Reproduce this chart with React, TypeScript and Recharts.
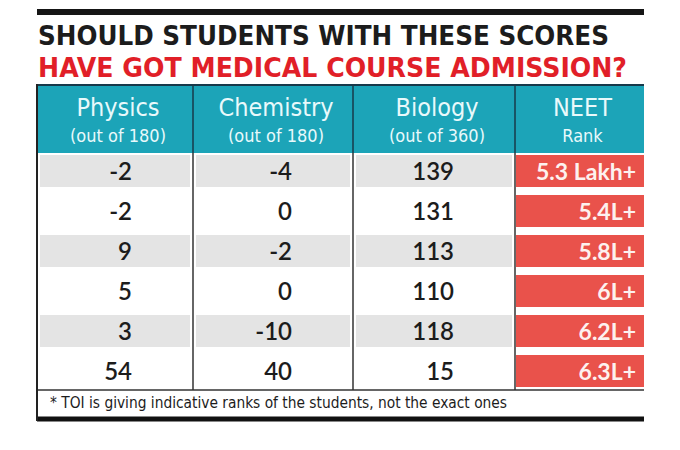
import React from 'react';
import { BarChart, Bar, XAxis, YAxis } from 'recharts';

// ---- data ----
const titleLines = ['SHOULD STUDENTS WITH THESE SCORES', 'HAVE GOT MEDICAL COURSE ADMISSION?'];
const subjects = ['Physics', 'Chemistry', 'Biology', 'NEET'];
const subLabels = ['(out of 180)', '(out of 180)', '(out of 360)', 'Rank'];
const physics = [-2, -2, 9, 5, 3, 54];
const chemistry = [-4, 0, -2, 0, -10, 40];
const biology = [139, 131, 113, 110, 118, 15];
const neetRank = ['5.3 Lakh+', '5.4L+', '5.8L+', '6L+', '6.2L+', '6.3L+'];
const footnote = '* TOI is giving indicative ranks of the students, not the exact ones';

const data = physics.map((p, i) => ({
  row: `r${i + 1}`,
  physics: p,
  chemistry: chemistry[i],
  biology: biology[i],
  neet: neetRank[i],
}));

// ---- layout ----
const W = 680;
const H = 450;
const COLS = [37, 193, 353, 515, 644];
const HEAD_TOP = 85;
const HEAD_BOTTOM = 153;
const BODY_TOP = 151;
const BODY_BOTTOM = 391;
const TEAL = '#1ca4b8';
const RED = '#e9524b';
const TITLE_RED = '#e11f28';
const INK = '#1c1c1c';
const BODY_FONT = 'Lato, "Open Sans", sans-serif';
const HEAD_FONT = '"Liberation Sans Narrow", "DejaVu Sans Condensed", Lato, sans-serif';

function RowShape(props: any) {
  const { y, height, index, payload } = props;
  const base = y + height / 2 + 9;
  const values = [payload.physics, payload.chemistry, payload.biology];
  return (
    <g>
      {index % 2 === 0 &&
        values.map((_, c) => (
          <rect key={`bg${c}`} x={COLS[c] + 3} y={y} width={COLS[c + 1] - COLS[c] - 6} height={height} fill="#e4e4e4" />
        ))}
      {values.map((v, c) => (
        <text
          key={`t${c}`}
          x={COLS[c + 1] - 61}
          y={base}
          textAnchor="end"
          fontFamily={BODY_FONT}
          fontWeight={600}
          fontSize={24}
          fill={INK}
        >
          {String(v)}
        </text>
      ))}
      <rect x={COLS[3] + 1} y={y} width={COLS[4] - COLS[3] - 1} height={height} fill={RED} />
      <text
        x={COLS[4] - 8}
        y={base}
        textAnchor="end"
        fontFamily={BODY_FONT}
        fontWeight="bold"
        fontSize={23}
        fill="#fdf1ef"
      >
        {payload.neet}
      </text>
    </g>
  );
}

function Frame() {
  return (
    <g>
      {/* top rule */}
      <rect x={COLS[0]} y={9} width={COLS[4] - COLS[0]} height={6} fill="#151515" />
      {/* title */}
      <text x={38} y={45} fontFamily={HEAD_FONT} fontWeight="bold" fontSize={27} fill={INK}
        textLength={571} lengthAdjust="spacingAndGlyphs">
        {titleLines[0]}
      </text>
      <text x={38} y={77} fontFamily={HEAD_FONT} fontWeight="bold" fontSize={27} fill={TITLE_RED}
        textLength={589} lengthAdjust="spacingAndGlyphs">
        {titleLines[1]}
      </text>
      {/* header */}
      <rect x={COLS[0]} y={HEAD_TOP} width={COLS[4] - COLS[0]} height={HEAD_BOTTOM - HEAD_TOP} fill={TEAL} />
      <line x1={COLS[0]} x2={COLS[4]} y1={HEAD_TOP} y2={HEAD_TOP} stroke="#17394a" strokeWidth={2} />
      {subjects.map((s, c) => {
        const cx = (COLS[c] + COLS[c + 1]) / 2 + 3;
        return (
          <g key={s}>
            <text x={cx} y={116} textAnchor="middle" fontFamily={HEAD_FONT} fontSize={25} fill="#e9f9fb">
              {s}
            </text>
            <text x={cx} y={142} textAnchor="middle" fontFamily={HEAD_FONT} fontSize={18} fill="#e9f9fb">
              {subLabels[c]}
            </text>
          </g>
        );
      })}
      {/* column dividers */}
      {COLS.slice(1, 4).map((x) => (
        <g key={x}>
          <line x1={x} x2={x} y1={HEAD_TOP} y2={HEAD_BOTTOM} stroke="#173a4a" strokeWidth={1.5} />
          <line x1={x} x2={x} y1={HEAD_BOTTOM} y2={390} stroke="#333" strokeWidth={1.5} />
        </g>
      ))}
      {/* footnote */}
      <line x1={COLS[0]} x2={COLS[4]} y1={390} y2={390} stroke="#333" strokeWidth={1.5} />
      <text x={50} y={408} fontFamily={HEAD_FONT} fontSize={16} fill={INK}
        textLength={457} lengthAdjust="spacingAndGlyphs">
        {footnote}
      </text>
      <rect x={COLS[0]} y={416.5} width={COLS[4] - COLS[0]} height={5} fill="#111" />
      <line x1={COLS[0]} x2={COLS[0]} y1={HEAD_TOP - 1} y2={421} stroke="#222" strokeWidth={2} />
    </g>
  );
}

export default function App() {
  return (
    <div style={{ position: 'absolute', left: 0, top: 0, width: W, height: H, background: '#fff' }}>
      <BarChart
        width={W}
        height={H}
        data={data}
        layout="vertical"
        margin={{ top: BODY_TOP, right: W - COLS[4], bottom: H - BODY_BOTTOM, left: COLS[0] }}
      >
        <XAxis type="number" domain={[0, 1]} hide />
        <YAxis type="category" dataKey="row" hide />
        <Bar dataKey={() => 1} barSize={32} shape={RowShape} isAnimationActive={false} />
        <Frame />
      </BarChart>
    </div>
  );
}
